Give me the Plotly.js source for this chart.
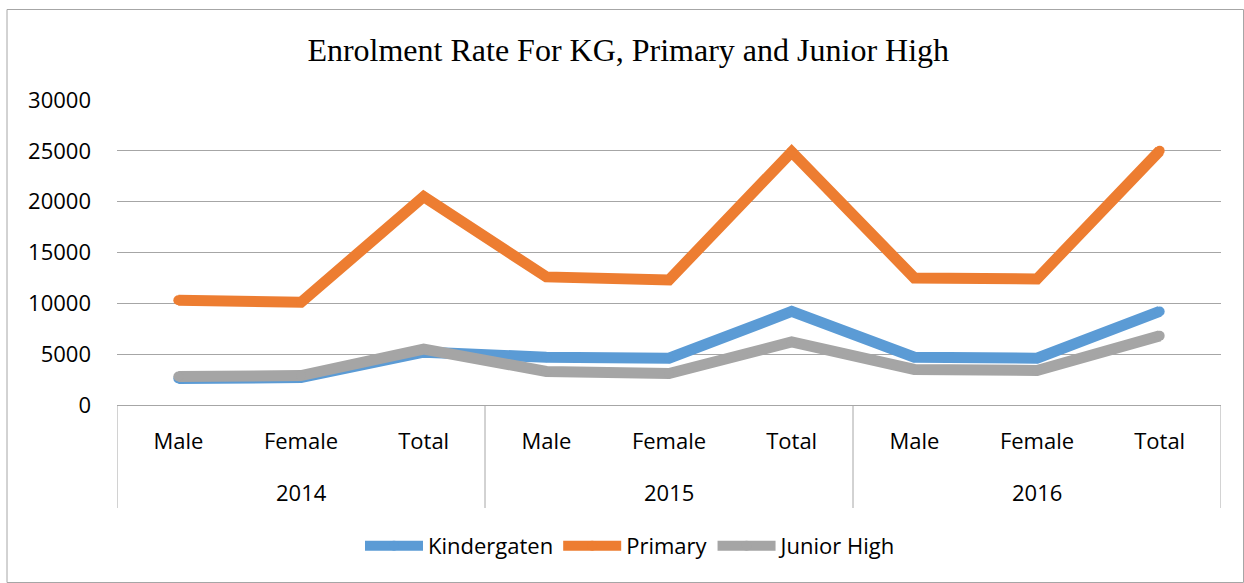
<!DOCTYPE html>
<html>
<head>
<meta charset="utf-8">
<script src="https://cdn.plot.ly/plotly-3.0.1.min.js"></script>
<style>html,body{margin:0;padding:0;background:#fff;}#chart{width:1244px;height:583px;}</style>
</head>
<body>
<div id="chart"></div>
<script>
const years = ["2014","2014","2014","2015","2015","2015","2016","2016","2016"];
const groups = ["Male","Female","Total","Male","Female","Total","Male","Female","Total"];
const kindergarten = [2600, 2700, 5200, 4700, 4600, 9200, 4700, 4600, 9200];
const primary = [10300, 10100, 20500, 12600, 12300, 24900, 12500, 12400, 25000];
const juniorHigh = [2800, 2900, 5500, 3300, 3100, 6200, 3500, 3400, 6800];
const seriesNames = ["Kindergaten", "Primary", "Junior High"];
const colors = ["#5B9BD5", "#ED7D31", "#A5A5A5"];
const yTicks = [0, 5000, 10000, 15000, 20000, 25000, 30000];

const font = "Open Sans, sans-serif";
const idx = groups.map((_, i) => i);

const data = [kindergarten, primary, juniorHigh].map((vals, i) => ({
  type: "scatter",
  mode: "lines+markers",
  name: seriesNames[i],
  x: idx,
  y: vals,
  line: {color: colors[i], width: 11},
  marker: {color: colors[i], size: 10, line: {width: 0}},
  hoverinfo: "skip"
}));

// year groups: centre label and boundaries, derived from the years array
const uniqueYears = [...new Set(years)];
const yearAnnotations = uniqueYears.map(yr => {
  const members = idx.filter(i => years[i] === yr);
  const mid = (members[0] + members[members.length - 1]) / 2;
  return {xref: "x", yref: "paper", x: mid, y: (405 - 492) / 305, yanchor: "middle",
    text: yr, showarrow: false, font: {family: font, size: 22, color: "#000"}};
});
const boundaries = [-0.5];
uniqueYears.forEach(yr => {
  const members = idx.filter(i => years[i] === yr);
  boundaries.push(members[members.length - 1] + 0.5);
});
const dividerShapes = boundaries.map(b => ({type: "line", xref: "x", yref: "paper",
  x0: b, x1: b, y0: 0, y1: (405 - 508) / 305, line: {color: "#a6a6a6", width: 1}}));

const layout = {
  width: 1244, height: 583,
  margin: {l: 117, r: 23, t: 100, b: 178},
  paper_bgcolor: "#fff", plot_bgcolor: "#fff",
  showlegend: true,
  title: {text: "Enrolment Rate For KG, Primary and Junior High",
    font: {family: "Liberation Serif, Times New Roman, serif", size: 32, color: "#000"},
    xref: "container", x: 0.505, xanchor: "center", yref: "container", y: 1 - 50/583, yanchor: "middle"},
  xaxis: {
    range: [-0.5, 8.5], tickvals: idx, ticktext: groups,
    showgrid: false, zeroline: false,
    showline: true, linecolor: "#a6a6a6", linewidth: 1,
    ticks: "", ticklabelstandoff: 17,
    tickfont: {family: font, size: 22, color: "#000"},
    fixedrange: true
  },
  yaxis: {
    range: [0, 30000], tickvals: yTicks, ticktext: yTicks.map(String),
    showgrid: true, gridcolor: "#a6a6a6", gridwidth: 1,
    zeroline: false, showline: false, ticks: "",
    ticklabelstandoff: 25,
    tickfont: {family: font, size: 22, color: "#000"},
    fixedrange: true
  },
  legend: {orientation: "h", xref: "container", yref: "container", x: 631/1244, xanchor: "center", y: 1 - 546/583, yanchor: "middle",
    font: {family: font, size: 22, color: "#000"}, itemwidth: 58, traceorder: "normal"},
  annotations: yearAnnotations,
  shapes: [{type: "rect", xref: "paper", yref: "paper",
    x0: (7-117)/1104, x1: (1243.5-117)/1104, y0: (405-582.5)/305, y1: (405-9.5)/305,
    line: {color: "#a6a6a6", width: 1}, fillcolor: "rgba(0,0,0,0)", layer: "below"}].concat(dividerShapes)
};

Plotly.newPlot("chart", data, layout, {displayModeBar: false, staticPlot: true});
</script>
</body>
</html>
